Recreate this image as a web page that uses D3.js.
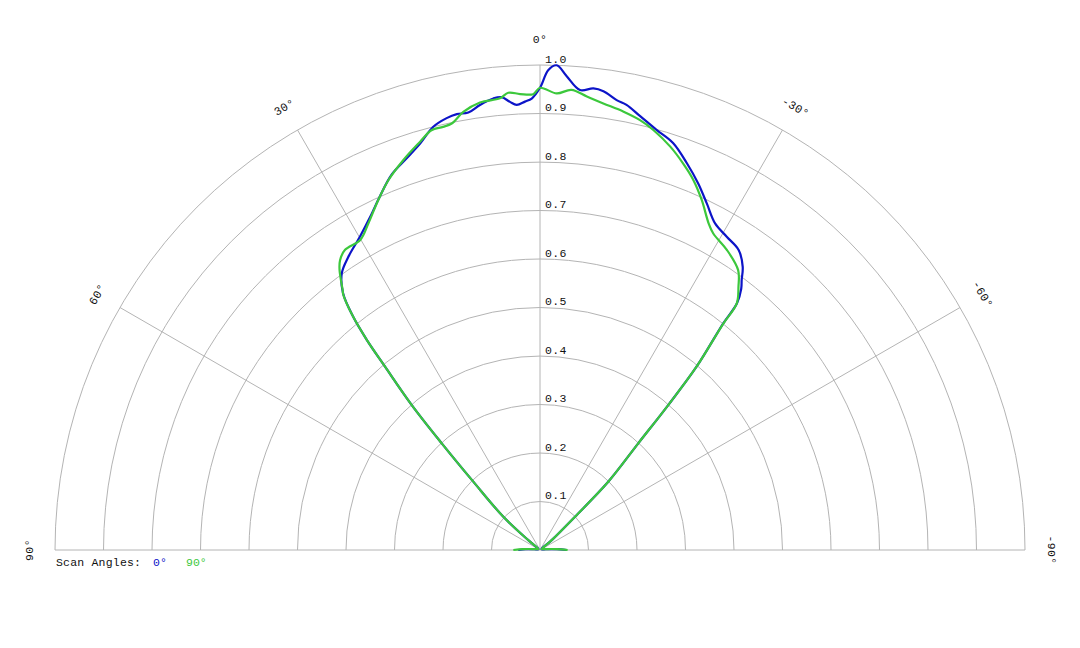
<!DOCTYPE html>
<html>
<head>
<meta charset="utf-8">
<script src="https://cdn.jsdelivr.net/npm/d3@7"></script>
<style>
  body { margin: 0; background: #fff; }
  svg { display: block; }
  text { font-family: "Liberation Mono", "DejaVu Sans Mono", monospace; font-size: 11.5px; }
</style>
</head>
<body>
<svg id="chart" width="1080" height="648"></svg>
<script>
// radial grid ticks and angle ticks (degrees, positive = left of 0)
const radialTicks = [0.1, 0.2, 0.3, 0.4, 0.5, 0.6, 0.7, 0.8, 0.9, 1.0];
const angleTicks = [90, 60, 30, 0, -30, -60, -90];

// scan angle 0° (blue)
const blueAngles = [90, 87, 82, 70, 58, 50, 47.8, 44.3, 42.65, 41.5, 40.2, 39.5, 38.7, 37.5, 35.6, 33.2, 29.9, 27.0,
  24.4, 21.6, 18.8, 16.4, 14.15, 12.2, 10.8, 9.3, 7.68, 5.9, 4.84, 3.83, 3.0, 1.92, 1.05, 0, -1.0, -1.97, -3.2,
  -4.97, -6.6, -7.87, -9.67, -11.0, -13.0, -15.5, -18.1, -20.8, -23.35, -25.7, -28.2, -30.8, -33.5, -35.6,
  -36.75, -37.6, -38.6, -38.96, -40.5, -41.5, -42.65, -45, -46.4, -50, -58, -70, -82, -87, -90];
const blueValues = [0.045, 0.03, 0.012, 0.004, 0.004, 0.03, 0.102, 0.197, 0.299, 0.399, 0.495, 0.561, 0.616, 0.667, 0.702,
  0.722, 0.745, 0.771, 0.800, 0.832, 0.853, 0.874, 0.900, 0.911, 0.915, 0.914, 0.926, 0.936, 0.937, 0.926, 0.919,
  0.925, 0.931, 0.953, 0.99, 1.0, 0.979, 0.952, 0.958, 0.955, 0.941, 0.935, 0.918, 0.899, 0.883, 0.853, 0.823,
  0.793, 0.764, 0.752, 0.742, 0.718, 0.695, 0.680, 0.651, 0.601, 0.497, 0.399, 0.299, 0.199, 0.0996, 0.03, 0.004,
  0.004, 0.012, 0.035, 0.055];

// scan angle 90° (green)
const greenAngles = [90, 87, 82, 70, 58, 50, 47.8, 44.3, 42.65, 41.5, 40.2, 39.5, 38.7, 37.6, 37.2, 35.6, 34.6, 33.0,
  30.1, 27.7, 24.8, 22.3, 19.3, 16.4, 14.5, 12.9, 11.7, 9.93, 7.64, 5.06, 3.97, 2.5, 0.84, 0, -2.1, -3.9, -5.9,
  -8.07, -10.8, -13.1, -15.1, -17.9, -20.3, -22.5, -24.8, -27.3, -28.7, -31.9, -35.3, -37.0, -38.6, -39.0, -40.5,
  -41.5, -42.65, -45, -46.4, -50, -58, -70, -82, -87, -90];
const greenValues = [0.055, 0.035, 0.014, 0.005, 0.004, 0.03, 0.102, 0.197, 0.299, 0.399, 0.495, 0.561, 0.616, 0.665, 0.673,
  0.710, 0.726, 0.738, 0.739, 0.761, 0.795, 0.824, 0.852, 0.877, 0.894, 0.895, 0.898, 0.917, 0.931, 0.935, 0.945,
  0.941, 0.940, 0.953, 0.942, 0.951, 0.940, 0.930, 0.920, 0.910, 0.897, 0.874, 0.850, 0.826, 0.795, 0.758, 0.744,
  0.729, 0.707, 0.680, 0.650, 0.600, 0.497, 0.399, 0.299, 0.199, 0.0996, 0.03, 0.004, 0.005, 0.014, 0.035, 0.057];

const legendItems = [
  { label: "0°", color: "#0c14c8", x: 153 },
  { label: "90°", color: "#3cc83c", x: 186 },
];

const cx = 540, cy = 550, R = 485;

const svg = d3.select("#chart");

const r = d3.scaleLinear().domain([0, 1]).range([0, R]);
// radians clockwise from 12 o'clock; positive degrees go left
const a = d3.scaleLinear().domain([90, -90]).range([-Math.PI / 2, Math.PI / 2]);

const g = svg.append("g").attr("transform", `translate(${cx},${cy})`);

// grid semicircles
g.selectAll(".ring")
  .data(radialTicks)
  .join("path")
  .attr("class", "ring")
  .attr("fill", "none")
  .attr("stroke", "#b4b4b4")
  .attr("stroke-width", 1)
  .attr("d", (d) => `M${-r(d)},0A${r(d)},${r(d)} 0 0 1 ${r(d)},0`);

// spokes
g.selectAll(".spoke")
  .data(angleTicks)
  .join("line")
  .attr("class", "spoke")
  .attr("stroke", "#b4b4b4")
  .attr("stroke-width", 1)
  .attr("x1", 0)
  .attr("y1", 0)
  .attr("x2", (d) => r(1) * Math.sin(a(d)))
  .attr("y2", (d) => -r(1) * Math.cos(a(d)));

// radial tick labels
g.selectAll(".rlabel")
  .data(radialTicks)
  .join("text")
  .attr("class", "rlabel")
  .attr("x", 5)
  .attr("y", (d) => -r(d) - 2.5)
  .attr("fill", "#111")
  .attr("letter-spacing", 0.4)
  .text((d) => d.toFixed(1));

// angle labels
const labelR = r(1) + 26;
g.selectAll(".alabel")
  .data(angleTicks)
  .join("text")
  .attr("class", "alabel")
  .attr("text-anchor", "middle")
  .attr("dominant-baseline", "central")
  .attr("fill", "#111")
  .attr("letter-spacing", 0.4)
  .attr("transform", (d) => {
    const x = labelR * Math.sin(a(d));
    const y = -labelR * Math.cos(a(d));
    return `translate(${x},${y}) rotate(${(a(d) * 180) / Math.PI})`;
  })
  .text((d) => d + "°");

// data lines
const line = d3
  .lineRadial()
  .angle((d) => a(d[0]))
  .radius((d) => r(d[1]))
  .curve(d3.curveCatmullRom.alpha(0.5));

const series = [
  { angles: blueAngles, values: blueValues, color: legendItems[0].color },
  { angles: greenAngles, values: greenValues, color: legendItems[1].color },
];

g.selectAll(".series")
  .data(series)
  .join("path")
  .attr("class", "series")
  .attr("fill", "none")
  .attr("stroke", (d) => d.color)
  .attr("stroke-width", 2.2)
  .attr("stroke-linejoin", "round")
  .attr("d", (d) => line(d.angles.map((t, i) => [t, d.values[i]])));

// legend
svg.append("text")
  .attr("x", 56)
  .attr("y", 566)
  .attr("fill", "#111")
  .attr("letter-spacing", 0.2)
  .text("Scan Angles:");

svg.selectAll(".legend")
  .data(legendItems)
  .join("text")
  .attr("class", "legend")
  .attr("x", (d) => d.x)
  .attr("y", 566)
  .attr("fill", (d) => d.color)
  .text((d) => d.label);
</script>
</body>
</html>
